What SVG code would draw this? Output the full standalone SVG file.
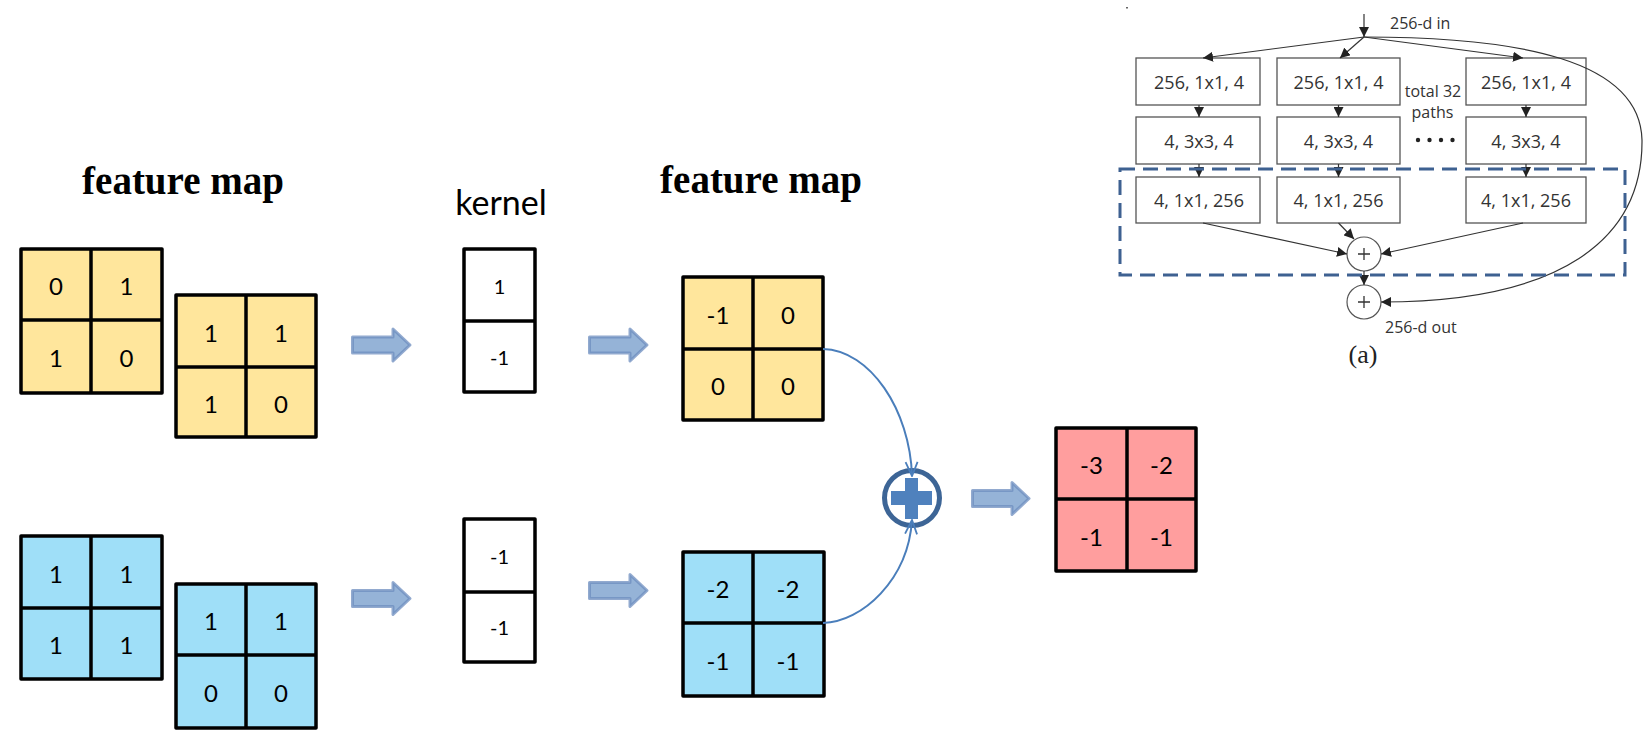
<svg xmlns="http://www.w3.org/2000/svg" width="1645" height="732" viewBox="0 0 1645 732">
<style>
.title{font-family:"Liberation Serif","Times New Roman",serif;font-weight:bold;font-size:39px;fill:#000;text-anchor:middle}
.num{font-family:Lato,"Liberation Sans",sans-serif;font-size:24px;fill:#000;text-anchor:middle}
.knum{font-family:Lato,"Liberation Sans",sans-serif;font-size:20px;fill:#000;text-anchor:middle}
.grid{stroke:#000;stroke-width:3.5;stroke-linejoin:round}
.gl{stroke:#000;stroke-width:3.5}
.yel{fill:#ffe69c}
.blu{fill:#9fdff8}
.red{fill:#ff9e9e}
.wht{fill:#fff}
.barrow{fill:#95b3d7;stroke:#6d8ebf;stroke-width:3;stroke-opacity:0.75;stroke-linejoin:round}
.bc{fill:none;stroke:#4a7ebb;stroke-width:2}
.rb{fill:#fff;stroke:#555;stroke-width:1.3}
.rt{font-family:"Open Sans","Liberation Sans",sans-serif;font-size:18px;fill:#333;text-anchor:middle}
.rs{font-family:"Open Sans","Liberation Sans",sans-serif;font-size:16px;fill:#333}
.rl{fill:none;stroke:#333;stroke-width:1.2}
.cap{font-family:"Liberation Serif","Times New Roman",serif;font-size:26px;fill:#222;text-anchor:middle}
</style>
<defs>
<marker id="ah" markerUnits="userSpaceOnUse" markerWidth="10" markerHeight="10" viewBox="0 0 10 10" refX="10" refY="5" orient="auto">
<path d="M0,0 L10,5 L0,10 z" fill="#222"/>
</marker>
<marker id="vh" markerUnits="userSpaceOnUse" markerWidth="16" markerHeight="16" viewBox="0 0 16 16" refX="15" refY="8" orient="auto">
<path d="M1,2 L15,8 L1,14" fill="none" stroke="#4a7ebb" stroke-width="1.8"/>
</marker>
</defs>
<rect width="1645" height="732" fill="#fff"/>

<text class="title" x="183" y="194">feature map</text>
<text class="title" x="761" y="193">feature map</text>
<text x="501" y="215" font-family="Lato,'Liberation Sans',sans-serif" font-size="34" text-anchor="middle" fill="#000">kernel</text>

<g id="yellow-in-1">
<rect class="grid yel" x="21" y="249" width="141" height="144"/>
<line class="gl" x1="91" y1="249" x2="91" y2="393"/><line class="gl" x1="21" y1="320" x2="162" y2="320"/>
<text class="num" x="56" y="295">0</text><text class="num" x="126.5" y="295">1</text>
<text class="num" x="56" y="367">1</text><text class="num" x="126.5" y="367">0</text>
</g>
<g id="yellow-in-2">
<rect class="grid yel" x="176" y="295" width="140" height="142"/>
<line class="gl" x1="246" y1="295" x2="246" y2="437"/><line class="gl" x1="176" y1="367" x2="316" y2="367"/>
<text class="num" x="211" y="341.5">1</text><text class="num" x="281" y="341.5">1</text>
<text class="num" x="211" y="412.5">1</text><text class="num" x="281" y="412.5">0</text>
</g>
<g id="blue-in-1">
<rect class="grid blu" x="21" y="536" width="141" height="143"/>
<line class="gl" x1="91" y1="536" x2="91" y2="679"/><line class="gl" x1="21" y1="608" x2="162" y2="608"/>
<text class="num" x="56" y="582.5">1</text><text class="num" x="126.5" y="582.5">1</text>
<text class="num" x="56" y="654">1</text><text class="num" x="126.5" y="654">1</text>
</g>
<g id="blue-in-2">
<rect class="grid blu" x="176" y="584" width="140" height="144"/>
<line class="gl" x1="246" y1="584" x2="246" y2="728"/><line class="gl" x1="176" y1="655" x2="316" y2="655"/>
<text class="num" x="211" y="630">1</text><text class="num" x="281" y="630">1</text>
<text class="num" x="211" y="702">0</text><text class="num" x="281" y="702">0</text>
</g>

<g id="kernel-1">
<rect class="grid wht" x="464" y="249" width="71" height="143"/>
<line class="gl" x1="464" y1="321" x2="535" y2="321"/>
<text class="knum" x="499.5" y="294">1</text>
<text class="knum" x="499.5" y="365">-1</text>
</g>
<g id="kernel-2">
<rect class="grid wht" x="464" y="519" width="71" height="143"/>
<line class="gl" x1="464" y1="592" x2="535" y2="592"/>
<text class="knum" x="499.5" y="563.5">-1</text>
<text class="knum" x="499.5" y="635">-1</text>
</g>

<g id="yellow-out">
<rect class="grid yel" x="683" y="277" width="140" height="143"/>
<line class="gl" x1="753" y1="277" x2="753" y2="420"/><line class="gl" x1="683" y1="349" x2="823" y2="349"/>
<text class="num" x="718" y="323.5">-1</text><text class="num" x="788" y="323.5">0</text>
<text class="num" x="718" y="395">0</text><text class="num" x="788" y="395">0</text>
</g>
<g id="blue-out">
<rect class="grid blu" x="683" y="552" width="141" height="144"/>
<line class="gl" x1="753" y1="552" x2="753" y2="696"/><line class="gl" x1="683" y1="623" x2="824" y2="623"/>
<text class="num" x="718" y="598">-2</text><text class="num" x="788" y="598">-2</text>
<text class="num" x="718" y="670">-1</text><text class="num" x="788" y="670">-1</text>
</g>
<g id="sum-out">
<rect class="grid red" x="1056" y="428" width="140" height="143"/>
<line class="gl" x1="1127" y1="428" x2="1127" y2="571"/><line class="gl" x1="1056" y1="499" x2="1196" y2="499"/>
<text class="num" x="1091.5" y="474">-3</text><text class="num" x="1161.5" y="474">-2</text>
<text class="num" x="1091.5" y="545.5">-1</text><text class="num" x="1161.5" y="545.5">-1</text>
</g>

<g id="plus-node">
<circle cx="912" cy="498" r="27.5" fill="#fff" stroke="#3d6596" stroke-width="5"/>
<rect x="891" y="491" width="41" height="14" fill="#4f81bd"/>
<rect x="905" y="478" width="13" height="41" fill="#4f81bd"/>
</g>

<g id="connectors">
<path class="barrow" d="M352.5,337 H393 V329 L410,345 L393,361 V353 H352.5 Z"/>
<path class="barrow" d="M352.5,590.5 H393 V582.5 L410,598.5 L393,614.5 V606.5 H352.5 Z"/>
<path class="barrow" d="M589.5,337 H630 V329 L647,345 L630,361 V353 H589.5 Z"/>
<path class="barrow" d="M589.5,582.5 H630 V574.5 L647,590.5 L630,606.5 V598.5 H589.5 Z"/>
<path class="barrow" d="M972.5,490.5 H1012 V482.5 L1029,498.5 L1012,514.5 V506.5 H972.5 Z"/>
<path class="bc" d="M823,349 C870,350 910,410 912,476" marker-end="url(#vh)"/>
<path class="bc" d="M823,623 C862,622 908,580 912,520" marker-end="url(#vh)"/>
</g>

<g id="resnext">
<rect x="1126" y="7" width="2" height="1.5" fill="#666"/>
<text class="rs" x="1390" y="29">256-d in</text>
<g id="rx-boxes">
<rect class="rb" x="1136" y="58" width="124" height="47"/>
<rect class="rb" x="1277" y="58" width="123" height="47"/>
<rect class="rb" x="1466" y="58" width="120" height="47"/>
<rect class="rb" x="1136" y="117" width="124" height="47"/>
<rect class="rb" x="1277" y="117" width="123" height="47"/>
<rect class="rb" x="1466" y="117" width="120" height="47"/>
<rect class="rb" x="1136" y="177" width="124" height="46"/>
<rect class="rb" x="1277" y="177" width="123" height="46"/>
<rect class="rb" x="1466" y="177" width="120" height="46"/>
<text class="rt" x="1199" y="89">256, 1x1, 4</text>
<text class="rt" x="1338.5" y="89">256, 1x1, 4</text>
<text class="rt" x="1526" y="89">256, 1x1, 4</text>
<text class="rt" x="1199" y="148">4, 3x3, 4</text>
<text class="rt" x="1338.5" y="148">4, 3x3, 4</text>
<text class="rt" x="1526" y="148">4, 3x3, 4</text>
<text class="rt" x="1199" y="207">4, 1x1, 256</text>
<text class="rt" x="1338.5" y="207">4, 1x1, 256</text>
<text class="rt" x="1526" y="207">4, 1x1, 256</text>
</g>
<text class="rs" x="1433" y="97" font-size="15" text-anchor="middle">total 32</text>
<text class="rs" x="1432.5" y="118" font-size="15" text-anchor="middle">paths</text>
<g fill="#222"><circle cx="1418" cy="140" r="2.2"/><circle cx="1429.5" cy="140" r="2.2"/><circle cx="1441" cy="140" r="2.2"/><circle cx="1452.5" cy="140" r="2.2"/></g>
<g id="rx-sum1"><circle cx="1364" cy="254" r="17" fill="#fff" stroke="#555" stroke-width="1.2"/><path d="M1358,254 H1370 M1364,248 V260" stroke="#333" stroke-width="1.3"/></g>
<g id="rx-sum2"><circle cx="1364" cy="302" r="17" fill="#fff" stroke="#555" stroke-width="1.2"/><path d="M1358,302 H1370 M1364,296 V308" stroke="#333" stroke-width="1.3"/></g>
<g id="rx-connectors">
<line class="rl" x1="1364" y1="14" x2="1364" y2="37" marker-end="url(#ah)"/>
<line class="rl" x1="1364" y1="37" x2="1203" y2="58" marker-end="url(#ah)"/>
<line class="rl" x1="1364" y1="37" x2="1340" y2="58" marker-end="url(#ah)"/>
<line class="rl" x1="1364" y1="37" x2="1523" y2="58" marker-end="url(#ah)"/>
<line class="rl" x1="1199" y1="105" x2="1199" y2="117" marker-end="url(#ah)"/>
<line class="rl" x1="1338.5" y1="105" x2="1338.5" y2="117" marker-end="url(#ah)"/>
<line class="rl" x1="1526" y1="105" x2="1526" y2="117" marker-end="url(#ah)"/>
<line class="rl" x1="1199" y1="164" x2="1199" y2="177" marker-end="url(#ah)"/>
<line class="rl" x1="1338.5" y1="164" x2="1338.5" y2="177" marker-end="url(#ah)"/>
<line class="rl" x1="1526" y1="164" x2="1526" y2="177" marker-end="url(#ah)"/>
<line class="rl" x1="1203" y1="223" x2="1347" y2="254" marker-end="url(#ah)"/>
<line class="rl" x1="1338.5" y1="223" x2="1354" y2="239" marker-end="url(#ah)"/>
<line class="rl" x1="1523" y1="223" x2="1381" y2="254" marker-end="url(#ah)"/>
<line class="rl" x1="1364" y1="271" x2="1364" y2="285" marker-end="url(#ah)"/>
<path class="rl" d="M1364,37 C1520,37 1640,60 1642,140 C1643,240 1560,302 1381,302" marker-end="url(#ah)"/>
</g>
<rect x="1120" y="169" width="505" height="106" fill="none" stroke="#3e6191" stroke-width="3" stroke-dasharray="15 8"/>
<text class="rs" x="1385" y="333">256-d out</text>
<text class="cap" x="1363" y="363">(a)</text>
</g>
</svg>
